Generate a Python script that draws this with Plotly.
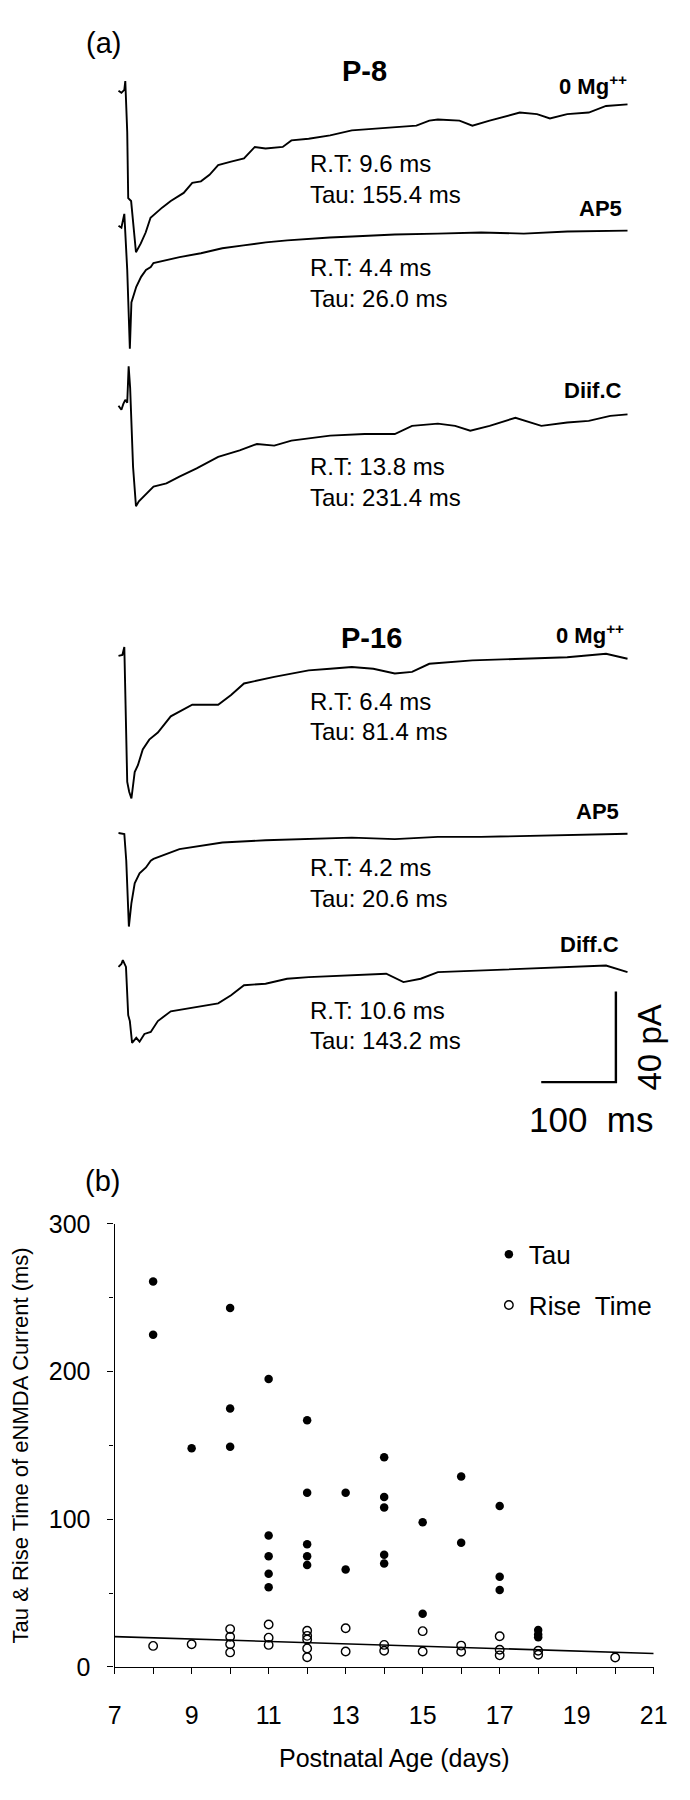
import plotly.graph_objects as go

W, H = 690, 1800
FONT = "Liberation Sans, Arial, Helvetica, sans-serif"
INK = "#000000"

# ---------------- panel (a): recorded currents (time in ms, current in pA) ----------------
T_P8_MG = [0, 3.9, 7.8, 9.1, 11.7, 13.0, 16.9, 20.8, 23.4, 29.9, 36.4, 42.9, 58.4, 70.0, 87.3,
           98.8, 110.4, 121.9, 133.5, 150.8, 168.1, 182.6, 197.0, 220.0, 231.6, 254.7, 283.5,
           312.5, 341.3, 370.1, 399.0, 416.3, 427.8, 456.7, 474.0, 497.1, 537.5, 560.6, 577.9,
           601.0, 629.9, 653.0, 681.8]
I_P8_MG = [0, -0.9, 0.4, 4.3, -18.3, -47.4, -48.7, -63.9, -71.3, -67.4, -62.6, -56.1, -51.6,
           -48.7, -45.1, -40.7, -40.0, -37.1, -32.8, -31.3, -29.9, -24.8, -25.5, -24.8, -21.9,
           -21.2, -19.7, -17.5, -16.8, -16.1, -15.4, -13.2, -12.7, -13.2, -15.4, -13.2, -9.6,
           -10.3, -12.2, -10.3, -9.6, -6.7, -6.0]

T_P8_AP5 = [0, 3.9, 7.8, 11.7, 15.2, 17.3, 23.8, 30.3, 36.8, 43.2, 46.8, 81.8, 110.4, 139.0,
            167.5, 197.4, 226.0, 254.5, 283.1, 313.0, 370.1, 427.3, 485.7, 542.9, 601.3, 681.8]
I_P8_AP5 = [0, -0.9, 5.2, -19.6, -54.3, -33.9, -27.0, -22.6, -19.6, -18.3, -16.5, -13.9, -12.2,
            -10.0, -8.7, -7.4, -6.5, -5.7, -5.2, -4.8, -3.9, -3.5, -3.0, -3.5, -2.6, -2.2]

T_P8_DIFF = [0, 3.9, 6.5, 9.1, 11.7, 13.6, 15.6, 19.5, 23.4, 27.3, 46.9, 64.2, 81.6, 104.7,
             133.5, 162.3, 185.5, 208.6, 231.6, 283.5, 329.7, 370.1, 393.2, 427.8, 450.9,
             471.2, 497.1, 531.7, 566.4, 601.0, 629.9, 658.7, 681.8]
I_P8_DIFF = [-0.4, -2.2, 0.4, 2.2, 0.9, 17.0, 7.4, -27.4, -44.8, -42.6, -36.1, -34.7, -31.7,
             -28.1, -23.0, -20.1, -17.3, -18.0, -15.8, -13.6, -12.9, -12.9, -9.3, -8.3, -9.3,
             -11.4, -9.3, -5.7, -9.3, -7.8, -7.1, -4.9, -4.2]

T_P16_MG = [0, 5.2, 7.8, 9.7, 11.7, 14.3, 17.3, 21.7, 26.0, 32.5, 41.2, 52.7, 70.0, 98.8, 133.5,
            150.8, 168.1, 208.6, 254.7, 283.5, 312.5, 341.3, 370.1, 393.2, 416.3, 474.0, 543.2,
            601.0, 653.0, 681.8]
I_P16_MG = [0, 0.4, 3.9, -20.9, -55.7, -60.0, -63.0, -51.3, -48.3, -41.3, -37.0, -33.9, -26.7,
            -21.6, -21.6, -17.3, -12.2, -9.3, -6.4, -5.7, -4.9, -5.7, -7.8, -7.1, -3.5, -2.0,
            -1.3, -0.6, 0.9, -1.3]

T_P16_AP5 = [0, 7.8, 10.4, 13.9, 17.3, 21.7, 28.2, 36.8, 43.2, 46.9, 81.6, 139.2, 197.0, 254.7,
             312.5, 370.1, 427.8, 485.6, 543.2, 618.3, 681.8]
I_P16_AP5 = [0, -0.4, -12.2, -41.3, -30.9, -22.2, -17.8, -15.2, -12.2, -11.4, -7.1, -4.2, -3.2,
             -2.7, -2.0, -2.7, -1.7, -1.7, -1.3, -0.6, -0.3]

T_P16_DIFF = [0, 3.9, 5.8, 10.0, 13.0, 15.2, 18.2, 23.8, 28.2, 34.7, 43.2, 52.7, 70.0, 110.4,
              133.5, 150.8, 168.1, 197.0, 225.8, 254.7, 312.5, 358.6, 381.7, 404.8, 427.8,
              485.6, 543.2, 601.0, 653.0, 681.8]
I_P16_DIFF = [0, 1.3, 3.0, 0, -21.3, -23.9, -33.5, -31.3, -33.0, -29.6, -28.7, -23.9, -19.6,
              -17.4, -16.1, -12.5, -8.1, -7.4, -5.2, -4.5, -3.8, -3.0, -6.7, -5.2, -2.3, -1.6,
              -0.9, -0.1, 0.6, -2.3]

TRACE_LABELS = ["0 Mg<sup>++</sup>", "AP5", "Diif.C", "0 Mg<sup>++</sup>", "AP5", "Diff.C"]
RISE_TIMES = [9.6, 4.4, 13.8, 6.4, 4.2, 10.6]
TAUS = [155.4, 26.0, 231.4, 81.4, 20.6, 143.2]
SCALE_MS, SCALE_PA = 100, 40

# ---------------- panel (b): kinetics vs postnatal age ----------------
TAU_AGE = [8, 8, 9, 10, 10, 10, 11, 11, 11, 11, 11, 12, 12, 12, 12, 12, 13, 13,
           14, 14, 14, 14, 14, 15, 15, 16, 16, 17, 17, 17, 18, 18, 18]
TAU_MS = [261, 225, 148, 243, 175, 149, 195, 89, 75, 63, 54, 167, 118, 83, 75, 69, 118, 66,
          142, 115, 108, 76, 70, 98, 36, 129, 84, 109, 61, 52, 25, 22, 20]
RT_AGE = [8, 9, 10, 10, 10, 10, 11, 11, 11, 12, 12, 12, 12, 12, 13, 13, 14, 14,
          15, 15, 16, 16, 17, 17, 17, 18, 18, 20]
RT_MS = [14.2, 15.3, 25.6, 20.4, 15.3, 9.8, 28.7, 19.8, 14.9, 24.5, 21.0, 18.5, 12.5, 6.5,
         26.2, 10.4, 14.9, 10.9, 24.2, 10.4, 14.4, 10.2, 20.7, 11.6, 7.8, 10.9, 8.2, 6.4]
FIT_AGE = [7, 21]
FIT_RT = [20.5, 9.1]


def px(x):
    return x / W


def py(y):
    return 1 - y / H


# panel (a) scale: 0.77 px per ms, 2.3 px per pA
A_X0 = 115                       # pixel where each sweep starts
A_MS_PX, A_PA_PX = 0.77, 2.3
A_TOP, A_BOTTOM = 0, 1150
baselines_px = [78, 215, 397, 652, 832, 968]
label_y = [72, 198, 382, 630, 810, 945]
label_right = [642, 636, 636, 638, 633, 633]
rt_y = [152, 258, 460, 698, 867, 1012]

sweeps = [(T_P8_MG, I_P8_MG), (T_P8_AP5, I_P8_AP5), (T_P8_DIFF, I_P8_DIFF),
          (T_P16_MG, I_P16_MG), (T_P16_AP5, I_P16_AP5), (T_P16_DIFF, I_P16_DIFF)]

fig = go.Figure()

for (t, i), base in zip(sweeps, baselines_px):
    off = -base / A_PA_PX
    fig.add_trace(go.Scatter(
        x=t, y=[v + off for v in i], mode="lines",
        line=dict(color=INK, width=1.9), showlegend=False, hoverinfo="skip",
        xaxis="x", yaxis="y",
    ))

# scale bar
sb_t0 = (551 - A_X0) / A_MS_PX
sb_y0 = -1085 / A_PA_PX
fig.add_trace(go.Scatter(
    x=[sb_t0, sb_t0 + SCALE_MS, sb_t0 + SCALE_MS],
    y=[sb_y0, sb_y0, sb_y0 + SCALE_PA],
    mode="lines", line=dict(color=INK, width=2.4), showlegend=False, hoverinfo="skip",
    xaxis="x", yaxis="y",
))

# panel (b)
fig.add_trace(go.Scatter(
    x=TAU_AGE, y=TAU_MS, mode="markers", name="Tau",
    marker=dict(symbol="circle", size=8.5, color=INK),
    xaxis="x2", yaxis="y2", legendgroup="tau",
))
fig.add_trace(go.Scatter(
    x=RT_AGE, y=RT_MS, mode="markers", name="Rise  Time",
    marker=dict(symbol="circle-open", size=8.5, color=INK, line=dict(width=1.4)),
    xaxis="x2", yaxis="y2", legendgroup="rt",
))
fig.add_trace(go.Scatter(
    x=FIT_AGE, y=FIT_RT, mode="lines", line=dict(color=INK, width=1.6),
    showlegend=False, hoverinfo="skip", xaxis="x2", yaxis="y2",
))

ann = []


def text(x, y, s, size, bold=False, xanchor="center", angle=0):
    ann.append(dict(
        x=px(x), y=py(y), xref="paper", yref="paper", text=f"<b>{s}</b>" if bold else s,
        showarrow=False, xanchor=xanchor, yanchor="middle", textangle=angle,
        font=dict(family=FONT, size=size, color=INK),
    ))


text(100, 29, "(a)", 29)
text(369, 58, "P-8", 29, bold=True)
text(376, 634, "P-16", 29, bold=True)
for k in range(6):
    text(label_right[k], label_y[k], TRACE_LABELS[k], 22, bold=True, xanchor="right")
    text(310, rt_y[k], f"R.T: {RISE_TIMES[k]:.1f} ms", 24, xanchor="left")
    text(310, rt_y[k] + 31, f"Tau: {TAUS[k]:.1f} ms", 24, xanchor="left")
text(663, 1050, "40 pA", 33, angle=-90)
text(603, 1123, "100  ms", 35)
text(98, 1185, "(b)", 29)
text(400, 1772, "Postnatal Age (days)", 25)

B_LEFT, B_RIGHT, B_TOP, B_BOTTOM = 111, 667, 1229, 1679

fig.update_layout(
    width=W, height=H,
    margin=dict(l=0, r=0, t=0, b=0),
    paper_bgcolor="white", plot_bgcolor="white",
    font=dict(family=FONT, color=INK),
    annotations=ann,
    xaxis=dict(domain=[0, 1], range=[-A_X0 / A_MS_PX, (W - A_X0) / A_MS_PX], visible=False),
    yaxis=dict(domain=[py(A_BOTTOM), py(A_TOP)], range=[-A_BOTTOM / A_PA_PX, -A_TOP / A_PA_PX],
               visible=False),
    xaxis2=dict(
        domain=[px(B_LEFT), px(B_RIGHT)], range=[7, 21], anchor="y2",
        tickmode="linear", tick0=7, dtick=2, ticks="outside", ticklen=6, tickwidth=1.2,
        tickcolor=INK, minor=dict(dtick=1, ticks="outside", ticklen=6, tickwidth=1.2, tickcolor=INK),
        showline=True, linecolor=INK, linewidth=1.3, showgrid=False, zeroline=False,
        tickfont=dict(family=FONT, size=25, color=INK), ticklabelstandoff=20,
    ),
    yaxis2=dict(
        domain=[py(B_BOTTOM), py(B_TOP)], range=[0, 300], anchor="x2",
        tickmode="linear", tick0=0, dtick=100, ticks="outside", ticklen=6, tickwidth=1.2,
        tickcolor=INK, minor=dict(dtick=50, ticks="outside", ticklen=4, tickwidth=1.0, tickcolor=INK),
        showline=True, linecolor=INK, linewidth=1.3, showgrid=False, zeroline=False,
        tickfont=dict(family=FONT, size=25, color=INK), ticklabelstandoff=12,
        title=dict(text="Tau & Rise Time of eNMDA Current (ms)", standoff=14,
                   font=dict(family=FONT, size=22, color=INK)),
    ),
    showlegend=True,
    legend=dict(
        x=px(497), y=py(1236), xanchor="left", yanchor="top",
        font=dict(family=FONT, size=26, color=INK), bgcolor="rgba(0,0,0,0)",
        traceorder="grouped", tracegroupgap=14, itemsizing="trace",
    ),
)

fig.write_html("out.html", config={"displayModeBar": False},
               post_script="document.body.style.margin='0';")
